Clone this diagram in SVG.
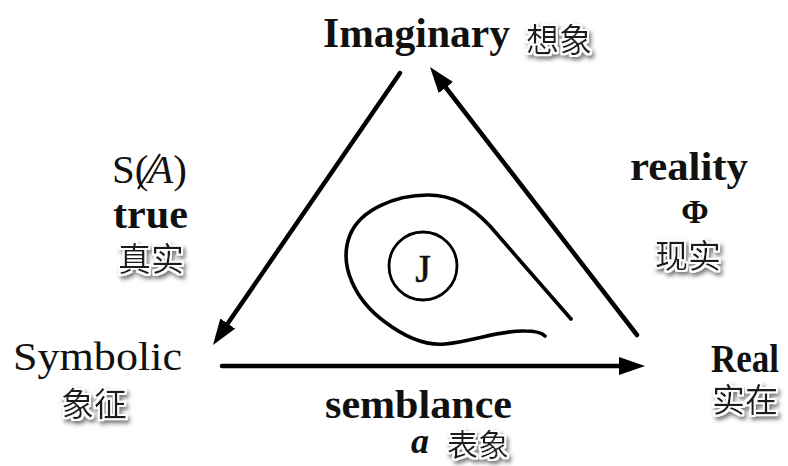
<svg xmlns="http://www.w3.org/2000/svg" width="788" height="466" viewBox="0 0 788 466">
<style>
.lbl{font-family:"Liberation Serif","Times New Roman",serif;fill:#111}
.b{font-weight:bold}
.cjk{font-family:"Noto Sans CJK SC","Noto Sans",sans-serif;fill:#1a1a1a;font-size:33px;filter:url(#halo)}
.edge{stroke:#000;stroke-width:4.5;fill:none;stroke-linecap:round}
.loop{stroke:#000;stroke-width:3.6;fill:none;stroke-linecap:round}
</style>
<defs>
<marker id="ah" viewBox="0 0 26 18" refX="14" refY="9" markerUnits="userSpaceOnUse" markerWidth="26" markerHeight="18" orient="auto">
<path d="M0,0 L26,9 L0,18 z" fill="#000"/>
</marker>
<filter id="halo" x="-20%" y="-30%" width="150%" height="170%">
<feMorphology in="SourceAlpha" operator="dilate" radius="2" result="d"/>
<feGaussianBlur in="d" stdDeviation="2.2" result="bl"/>
<feOffset in="bl" dx="2" dy="2.5" result="o"/>
<feFlood flood-color="#777"/>
<feComposite in2="o" operator="in" result="shadow"/>
<feFlood flood-color="#fff"/>
<feComposite in2="d" operator="in" result="white"/>
<feMerge><feMergeNode in="shadow"/><feMergeNode in="white"/><feMergeNode in="SourceGraphic"/></feMerge>
</filter>
</defs>
<rect width="788" height="466" fill="#fff"/>

<g id="connectors">
<line class="edge" x1="400" y1="73" x2="219.8" y2="335.1" marker-end="url(#ah)"/>
<line class="edge" x1="637" y1="335" x2="437.3" y2="76.5" marker-end="url(#ah)"/>
<line class="edge" x1="222" y1="366" x2="633" y2="366" marker-end="url(#ah)"/>
</g>

<g id="imaginary">
<text class="lbl b" x="323" y="47" font-size="43" textLength="187" lengthAdjust="spacingAndGlyphs">Imaginary</text>
<text class="cjk" x="526" y="52">想象</text>
</g>

<g id="symbolic">
<text class="lbl" x="13" y="370" font-size="41" textLength="169" lengthAdjust="spacingAndGlyphs">Symbolic</text>
<text class="cjk" x="61" y="416">象征</text>
</g>

<g id="real">
<text class="lbl b" x="711" y="372" font-size="40" textLength="68" lengthAdjust="spacingAndGlyphs">Real</text>
<text class="cjk" x="712" y="412">实在</text>
</g>

<g id="label-left">
<text class="lbl" x="112" y="183" font-size="39" textLength="75" lengthAdjust="spacingAndGlyphs">S(<tspan font-style="italic">A</tspan>)</text>
<line x1="138" y1="189" x2="160" y2="154" stroke="#111" stroke-width="2.2"/>
<text class="lbl b" x="113" y="228" font-size="39" textLength="75" lengthAdjust="spacingAndGlyphs">true</text>
<text class="cjk" x="118" y="271">真实</text>
</g>

<g id="label-right">
<text class="lbl b" x="630" y="180" font-size="39" textLength="118" lengthAdjust="spacingAndGlyphs">reality</text>
<text class="lbl b" x="695" y="223" font-size="33" text-anchor="middle">Φ</text>
<text class="cjk" x="655" y="268">现实</text>
</g>

<g id="label-bottom">
<text class="lbl b" x="325" y="418" font-size="39" textLength="187" lengthAdjust="spacingAndGlyphs">semblance</text>
<text class="lbl b" x="420" y="453" font-size="36" font-style="italic" text-anchor="middle">a</text>
<text class="cjk" x="447" y="456" style="font-size:31px">表象</text>
</g>

<g id="jouissance">
<path class="loop" d="M571,319 C550,295 515,255 490,226 C470,205 452,195 428,195 C395,195 360,210 350,235 C338,265 355,300 385,322 C405,337 425,346 445,344 C475,341 500,330 525,331 C535,331 542,333 545,336"/>
<circle cx="423" cy="266" r="34" fill="none" stroke="#000" stroke-width="2.8"/>
<text class="lbl" x="423" y="282" font-size="40" text-anchor="middle" stroke="#111" stroke-width="0.6">J</text>
</g>
</svg>
